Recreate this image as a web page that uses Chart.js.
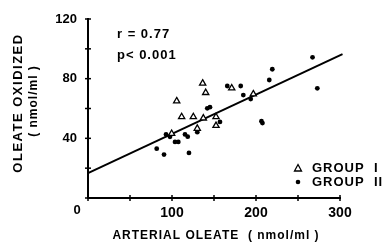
<!DOCTYPE html>
<html lang="en">
<head>
    <meta charset="UTF-8">
    <title>Oleate oxidized vs arterial oleate</title>
    <script src="https://cdn.jsdelivr.net/npm/chart.js"></script>
    <style>
        body { margin: 0; background: #fff; }
        #box { width: 383px; height: 242px; position: relative; }
    </style>
</head>
<body>
    <div id="box"><canvas id="grafica"></canvas></div>

    <script>
        // values
        const group1X = [99.6, 105.6, 111.5, 125.4, 130.1, 136.5, 137.3, 140.1, 152.4, 152.4, 171.1, 196.8];
        const group1Y = [43.2, 65.0, 54.4, 54.4, 46.6, 76.9, 53.5, 70.6, 54.4, 48.5, 73.7, 69.7];
        const group2X = [81.8, 90.5, 92.9, 97.6, 103.6, 107.5, 115.5, 118.7, 120.2, 130.1, 142.0, 145.2,
                         157.1, 165.8, 181.8, 184.9, 193.7, 206.5, 207.7, 215.8, 219.4, 267.3, 273.0];
        const group2Y = [33.1, 29.1, 42.6, 41.0, 37.6, 37.6, 42.6, 41.1, 30.2, 44.1, 60.1, 60.9,
                         51.0, 75.1, 75.1, 69.0, 66.3, 51.5, 50.2, 79.1, 86.3, 94.3, 73.5];
        const lineX = [0, 303];
        const lineY = [16.7, 96.4];
        const xTickLabels = [100, 200, 300];
        const yTickLabels = [40, 80, 120];

        const toPts = (xs, ys) => xs.map((x, i) => ({ x: x, y: ys[i] }));
        const FONT = "'Liberation Sans', Arial, sans-serif";

        // tick marks across the axes, the shared "0", titles, stats and legend
        const decor = {
            id: 'decor',
            afterDraw(chart) {
                const ctx = chart.ctx;
                const xs = chart.scales.x, ys = chart.scales.y;
                const x0 = xs.getPixelForValue(0), y0 = ys.getPixelForValue(0);
                ctx.save();
                ctx.strokeStyle = '#000';
                ctx.lineWidth = 1.5;
                ys.ticks.forEach(t => {
                    const py = ys.getPixelForValue(t.value);
                    ctx.beginPath(); ctx.moveTo(x0 - 3, py); ctx.lineTo(x0 + 3, py); ctx.stroke();
                });
                xs.ticks.forEach(t => {
                    const px = xs.getPixelForValue(t.value);
                    ctx.beginPath(); ctx.moveTo(px, y0 - 3); ctx.lineTo(px, y0 + 3); ctx.stroke();
                });

                ctx.fillStyle = '#000';
                ctx.textAlign = 'center';
                ctx.textBaseline = 'middle';
                ctx.font = 'bold 13px ' + FONT;
                ctx.fillText('0', 77, 210);

                ctx.font = 'bold 12px ' + FONT;
                ctx.letterSpacing = '1px';
                ctx.fillText('ARTERIAL OLEATE  ( nmol/ml )', 216, 236);

                ctx.save();
                ctx.translate(18, 103);
                ctx.rotate(-Math.PI / 2);
                ctx.font = 'bold 13px ' + FONT;
                ctx.letterSpacing = '1.5px';
                ctx.fillText('OLEATE OXIDIZED', 0, 0);
                ctx.restore();
                ctx.save();
                ctx.translate(34, 101);
                ctx.rotate(-Math.PI / 2);
                ctx.font = 'bold 12px ' + FONT;
                ctx.letterSpacing = '1px';
                ctx.fillText('( nmol/ml )', 0, 0);
                ctx.restore();

                ctx.textAlign = 'left';
                ctx.font = 'bold 13px ' + FONT;
                ctx.letterSpacing = '1px';
                ctx.fillText('r = 0.77', 117, 34);
                ctx.fillText('p< 0.001', 117, 55);

                ctx.fillText('GROUP  I', 312, 168);
                ctx.fillText('GROUP  II', 312, 182);
                ctx.letterSpacing = '0px';
                ctx.lineWidth = 1.3;
                ctx.beginPath();
                ctx.moveTo(298, 164.5); ctx.lineTo(301.5, 171); ctx.lineTo(294.5, 171); ctx.closePath();
                ctx.stroke();
                ctx.beginPath(); ctx.arc(298, 182, 2.3, 0, Math.PI * 2); ctx.fill();
                ctx.restore();
            }
        };

        const ctx = document.getElementById('grafica').getContext('2d');
        new Chart(ctx, {
            type: 'scatter',
            data: {
                datasets: [
                    {
                        label: 'GROUP I',
                        data: toPts(group1X, group1Y),
                        pointStyle: 'triangle',
                        pointRadius: 3.6,
                        backgroundColor: '#fff',
                        borderColor: '#000',
                        borderWidth: 1.3
                    },
                    {
                        label: 'GROUP II',
                        data: toPts(group2X, group2Y),
                        pointStyle: 'circle',
                        pointRadius: 2.4,
                        backgroundColor: '#000',
                        borderColor: '#000',
                        borderWidth: 0
                    },
                    {
                        type: 'line',
                        label: 'fit',
                        data: toPts(lineX, lineY),
                        borderColor: '#000',
                        borderWidth: 2,
                        pointRadius: 0,
                        clip: false
                    }
                ]
            },
            options: {
                responsive: true,
                maintainAspectRatio: false,
                animation: false,
                layout: { padding: { left: 0, top: 19, right: 43, bottom: 0 } },
                plugins: { legend: { display: false }, tooltip: { enabled: false } },
                scales: {
                    x: {
                        type: 'linear',
                        min: 0, max: 300,
                        afterFit: s => { s.height = 44; },
                        grid: { drawOnChartArea: false, drawTicks: false },
                        border: { color: '#000', width: 2 },
                        ticks: {
                            stepSize: 50, autoSkip: false, maxRotation: 0, padding: 7,
                            color: '#000', font: { family: FONT, size: 14, weight: 'bold' },
                            callback: v => xTickLabels.includes(v) ? String(v) : ''
                        }
                    },
                    y: {
                        min: 0, max: 120,
                        afterFit: s => { s.width = 88; },
                        grid: { drawOnChartArea: false, drawTicks: false },
                        border: { color: '#000', width: 2 },
                        ticks: {
                            stepSize: 20, autoSkip: false, padding: 11,
                            color: '#000', font: { family: FONT, size: 13, weight: 'bold' },
                            callback: v => yTickLabels.includes(v) ? String(v) : ''
                        }
                    }
                }
            },
            plugins: [decor]
        });
    </script>
</body>
</html>
